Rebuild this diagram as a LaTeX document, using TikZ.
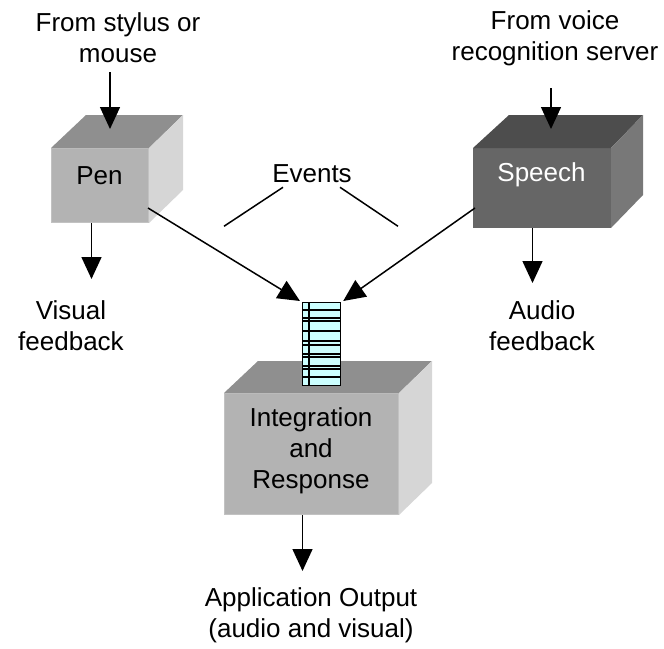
\documentclass[tikz,border=0pt]{standalone}
\usepackage{fontspec}
\setmainfont{Liberation Sans}
\usetikzlibrary{arrows.meta,calc}
\definecolor{lfront}{HTML}{B3B3B3}
\definecolor{ltop}{HTML}{8F8F8F}
\definecolor{lside}{HTML}{D6D6D6}
\definecolor{lborder}{HTML}{C2C2C2}
\definecolor{dfront}{HTML}{666666}
\definecolor{dtop}{HTML}{4D4D4D}
\definecolor{dside}{HTML}{787878}
\definecolor{qfill}{HTML}{CCFFFF}
\tikzset{
  lbl/.style={font=\fontsize{26}{31}\selectfont, align=center, inner sep=0pt},
  arr/.style={line width=1.5pt, -{Triangle[length=22pt,width=20pt]}},
  plain/.style={line width=1.5pt},
}
\begin{document}
\begin{tikzpicture}[x=1pt,y=-1pt]
\useasboundingbox (0,0) rectangle (664,648);
% Pen box
\node[lbl, fill=lfront, draw=lborder, line width=1pt, minimum width=97pt, minimum height=74pt, anchor=north west] (pen) at (51,148) {};
\node[lbl] (pentxt) at (99.5,176) {Pen};
\fill[ltop] (pen.north west) -- ++(35,-33) -- ($(pen.north east)+(34,-33)$) -- (pen.north east) -- cycle;
\fill[lside] (pen.north east) -- ++(34,-33) -- ($(pen.south east)+(34,-33)$) -- (pen.south east) -- cycle;
% Speech box
\node[lbl, fill=dfront, draw=dfront, line width=1pt, minimum width=137pt, minimum height=79pt, anchor=north west] (speech) at (473,148) {};
\node[lbl, text=white] (speechtxt) at (541.5,175) {Speech};
\fill[dtop] (speech.north west) -- ++(36,-33) -- ($(speech.north east)+(32,-33)$) -- (speech.north east) -- cycle;
\fill[dside] (speech.north east) -- ++(32,-33) -- ($(speech.south east)+(32,-33)$) -- (speech.south east) -- cycle;
% Integration box
\node[lbl, fill=lfront, draw=lborder, line width=1pt, minimum width=174pt, minimum height=121pt, anchor=north west] (integ) at (224,393) {};
\node[lbl] (integtxt) at (311,451) {Integration\\and\\Response};
\fill[ltop] (integ.north west) -- ++(34,-32) -- ($(integ.north east)+(33,-32)$) -- (integ.north east) -- cycle;
\fill[lside] (integ.north east) -- ++(33,-32) -- ($(integ.south east)+(33,-32)$) -- (integ.south east) -- cycle;
% Queue
\node[draw, fill=qfill, line width=1.2pt, minimum width=38pt, minimum height=83pt, anchor=north west, inner sep=0pt] (queue) at (302,302) {};
\foreach \yy in {310,318,321,331,341,345,354,357,366,369,377} {
  \draw[line width=1.2pt] ($(queue.north west)+(0,\yy-302)$) -- ($(queue.north east)+(0,\yy-302)$);
}
\draw[line width=1.2pt] ($(queue.north west)+(7,0)$) -- ($(queue.south west)+(7,0)$);
% Texts
\node[lbl] (penhdr) at (118,38) {From stylus or\\mouse};
\node[lbl] (sphdr) at (555,38) {From voice\\recognition server};
\node[lbl] (visfb) at (71,326) {Visual\\feedback};
\node[lbl] (audfb) at (542,326) {Audio\\feedback};
\node[lbl] (appout) at (311,615) {Application Output\\(audio and visual)};
\node[lbl] (events) at (312,174) {Events};
% Input arrows
\coordinate (penin) at (110,72);
\coordinate (spin) at (551,88);
\draw[arr] (penin) -- (penin |- 0,129);
\draw[arr] (spin) -- (spin |- 0,129);
% Output arrows
\draw[arr] ($(pen.south)+(-8.5,0)$) -- ++(0,56);
\draw[arr] ($(speech.south)+(-9.5,0)$) -- ++(0,55);
\draw[arr] ($(integ.south)+(-9,0)$) -- ++(0,56);
% Event arrows
\draw[arr] ($(pen.south east)+(-1,-15)$) -- ($(queue.north west)+(-2,-1)$);
\draw[arr] ($(speech.south west)+(2,-20)$) -- ($(queue.north east)+(2,-1)$);
% Events lines
\draw[plain] ($(events.south)+(-29,4)$) -- ++(-59,39);
\draw[plain] ($(events.south)+(28,4)$) -- ++(58,39);
\end{tikzpicture}
\end{document}
